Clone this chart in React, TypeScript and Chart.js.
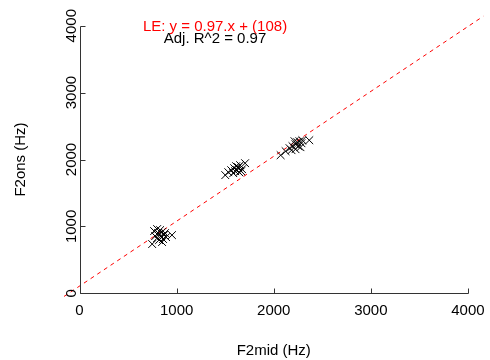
import React, { useEffect, useRef } from "react";
import { Chart, registerables } from "chart.js";

Chart.register(...registerables);

// F2mid (Hz) and F2ons (Hz) measurements
const f2mid: number[] = [
  748, 768, 799, 830, 850, 819, 840, 870, 799, 819, 860, 891, 952, 779, 850, 880, 809,
  1501, 1532, 1562, 1593, 1613, 1634, 1654, 1623, 1644, 1674, 1705, 1583, 1664, 1603,
  2071, 2122, 2163, 2193, 2224, 2244, 2265, 2285, 2254, 2224, 2183, 2295, 2366, 2275, 2214,
];
const f2ons: number[] = [
  736, 930, 960, 945, 915, 885, 855, 870, 825, 796, 811, 840, 870, 855, 766, 900, 900,
  1766, 1810, 1840, 1870, 1900, 1885, 1915, 1840, 1810, 1855, 1945, 1796, 1825, 1825,
  2064, 2124, 2169, 2199, 2228, 2258, 2273, 2243, 2199, 2154, 2139, 2288, 2288, 2184, 2273,
];

// Fitted line
const slope = 0.97;
const intercept = 108;
const fitLabel = "LE: y = 0.97.x + (108)";
const r2Label = "Adj. R^2 = 0.97";

const axisTicks: number[] = [0, 1000, 2000, 3000, 4000];
const rangeMin = -160;
const rangeMax = 4160;
const xTitle = "F2mid (Hz)";
const yTitle = "F2ons (Hz)";

const FONT = '15px "Liberation Sans", Arial, sans-serif';

const axesPlugin = {
  id: "rAxes",
  afterDraw(chart: any) {
    const ctx = chart.ctx as CanvasRenderingContext2D;
    const xs = chart.scales.x;
    const ys = chart.scales.y;
    const x0 = Math.round(xs.getPixelForValue(0)) + 0.5;
    const y0 = Math.round(ys.getPixelForValue(0)) + 0.5;
    const xEnd = xs.getPixelForValue(axisTicks[axisTicks.length - 1]);
    const yEnd = ys.getPixelForValue(axisTicks[axisTicks.length - 1]);
    ctx.save();
    ctx.strokeStyle = "#333";
    ctx.lineWidth = 1;
    ctx.setLineDash([]);
    ctx.beginPath();
    ctx.moveTo(x0, y0);
    ctx.lineTo(Math.round(xEnd) + 0.5, y0);
    ctx.moveTo(x0, y0);
    ctx.lineTo(x0, Math.round(yEnd) + 0.5);
    for (const t of axisTicks) {
      const px = Math.round(xs.getPixelForValue(t)) + 0.5;
      ctx.moveTo(px, y0);
      ctx.lineTo(px, y0 - 5);
      const py = Math.round(ys.getPixelForValue(t)) + 0.5;
      ctx.moveTo(x0, py);
      ctx.lineTo(x0 + 5, py);
    }
    ctx.stroke();

    ctx.fillStyle = "#000";
    ctx.font = FONT;
    ctx.textAlign = "center";
    ctx.textBaseline = "alphabetic";
    for (const t of axisTicks) {
      const px = xs.getPixelForValue(t);
      ctx.fillText(String(t), px, y0 + 21.5);
      const py = ys.getPixelForValue(t);
      ctx.save();
      ctx.translate(x0 - 4.5, py);
      ctx.rotate(-Math.PI / 2);
      ctx.fillText(String(t), 0, 0);
      ctx.restore();
    }
    // axis titles
    const midX = xs.getPixelForValue(2000);
    const midY = ys.getPixelForValue(2000);
    ctx.fillText(xTitle, midX, 355);
    ctx.save();
    ctx.translate(24.5, midY);
    ctx.rotate(-Math.PI / 2);
    ctx.fillText(yTitle, 0, 0);
    ctx.restore();

    // fit annotation
    const annX = xs.getPixelForValue(1395);
    ctx.fillStyle = "#ff0000";
    ctx.fillText(fitLabel, annX, 30.5);
    ctx.fillStyle = "#000";
    ctx.fillText(r2Label, annX, 42.5);
    ctx.restore();
  },
};

export default function App() {
  const ref = useRef<HTMLCanvasElement | null>(null);
  useEffect(() => {
    document.body.style.margin = "0";
    if (!ref.current) return;
    const points = f2mid.map((x, i) => ({ x, y: f2ons[i] }));
    const fit = [rangeMin, rangeMax].map((x) => ({ x, y: slope * x + intercept }));
    const chart = new Chart(ref.current, {
      type: "scatter",
      data: {
        datasets: [
          {
            type: "line",
            data: fit,
            borderColor: "#ff0000",
            borderWidth: 1,
            borderDash: [4, 4],
            pointRadius: 0,
            fill: false,
            order: 2,
          } as any,
          {
            data: points,
            pointStyle: "crossRot",
            pointRadius: 5.5,
            borderColor: "#000",
            backgroundColor: "#000",
            pointBorderWidth: 1,
            order: 1,
          } as any,
        ],
      },
      options: {
        responsive: false,
        animation: false,
        layout: { padding: { left: 64, right: 2, top: 15, bottom: 56 } },
        plugins: { legend: { display: false }, tooltip: { enabled: false } },
        scales: {
          x: { type: "linear", min: rangeMin, max: rangeMax, display: false },
          y: { type: "linear", min: rangeMin, max: rangeMax, display: false },
        },
      },
      plugins: [axesPlugin],
    });
    return () => chart.destroy();
  }, []);
  return <canvas ref={ref} width={490} height={360} style={{ display: "block" }} />;
}
